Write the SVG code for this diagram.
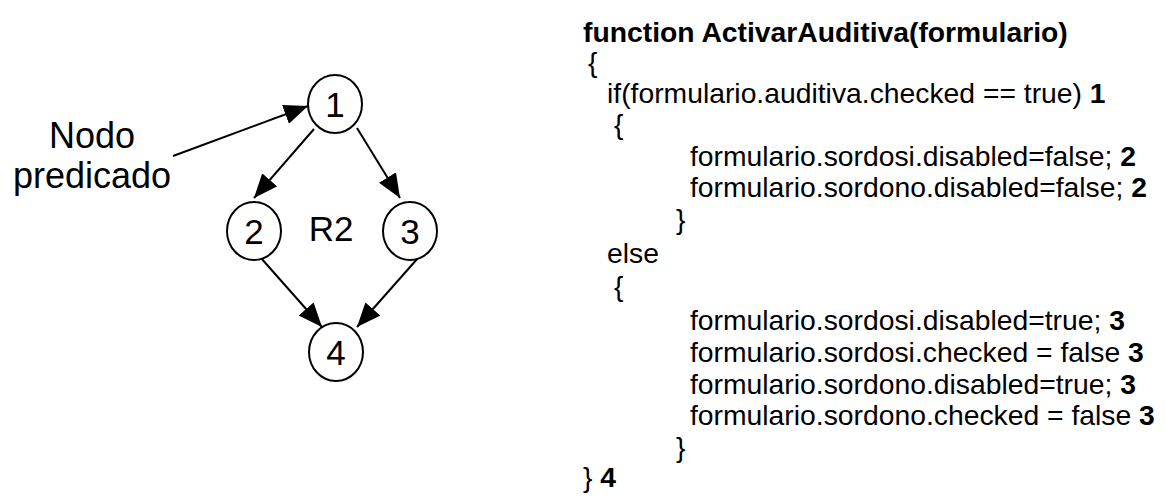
<svg xmlns="http://www.w3.org/2000/svg" width="1166" height="499" viewBox="0 0 1166 499">
<style>
text{font-family:"Liberation Sans",Arial,sans-serif;fill:#000}
.lbl{font-size:36px;text-anchor:middle}
.nl{font-size:35px;text-anchor:middle}
.code{font-size:28.3px}
.b{font-weight:bold}
.node ellipse{fill:#fff;stroke:#000;stroke-width:2}
.edge{stroke:#000;stroke-width:2;fill:none;marker-end:url(#ah)}
</style>
<defs>
<marker id="ah" viewBox="0 0 24 20" refX="24" refY="10" markerWidth="24" markerHeight="20" markerUnits="userSpaceOnUse" orient="auto">
<path d="M0,0 L24,10 L0,20 z" fill="#000"/>
</marker>
</defs>
<rect width="1166" height="499" fill="#fff"/>
<g id="label-nodo-predicado">
<text class="lbl" x="92" y="148">Nodo</text>
<text class="lbl" x="92" y="188">predicado</text>
</g>
<g id="connectors">
<line class="edge" x1="173" y1="156" x2="308" y2="106"/>
<line class="edge" x1="314" y1="129" x2="254" y2="198"/>
<line class="edge" x1="357" y1="128" x2="400" y2="198"/>
<line class="edge" x1="261" y1="258" x2="322" y2="327"/>
<line class="edge" x1="418" y1="258" x2="357" y2="327"/>
</g>
<g id="n1" class="node"><ellipse cx="335" cy="104" rx="27" ry="29"/><text class="nl" x="335" y="117">1</text></g>
<g id="n2" class="node"><ellipse cx="254" cy="231" rx="27" ry="29"/><text class="nl" x="254" y="244">2</text></g>
<g id="n3" class="node"><ellipse cx="410" cy="231" rx="27" ry="29"/><text class="nl" x="410" y="244">3</text></g>
<g id="n4" class="node"><ellipse cx="336" cy="352" rx="27" ry="29"/><text class="nl" x="336" y="365">4</text></g>
<g id="region-r2"><text class="nl" x="331" y="241">R2</text></g>
<g id="code">
<text class="code b" x="583" y="42">function ActivarAuditiva(formulario)</text>
<text class="code" x="588" y="72">{</text>
<text class="code" x="607" y="103">if(formulario.auditiva.checked == true) <tspan class="b">1</tspan></text>
<text class="code" x="614" y="134">{</text>
<text class="code" x="690" y="166">formulario.sordosi.disabled=false; <tspan class="b">2</tspan></text>
<text class="code" x="690" y="197">formulario.sordono.disabled=false; <tspan class="b">2</tspan></text>
<text class="code" x="676" y="229">}</text>
<text class="code" x="607" y="263">else</text>
<text class="code" x="614" y="296">{</text>
<text class="code" x="690" y="330">formulario.sordosi.disabled=true; <tspan class="b">3</tspan></text>
<text class="code" x="690" y="362">formulario.sordosi.checked = false <tspan class="b">3</tspan></text>
<text class="code" x="690" y="394">formulario.sordono.disabled=true; <tspan class="b">3</tspan></text>
<text class="code" x="690" y="425">formulario.sordono.checked = false <tspan class="b">3</tspan></text>
<text class="code" x="676" y="457">}</text>
<text class="code" x="583" y="487">} <tspan class="b">4</tspan></text>
</g>
</svg>
